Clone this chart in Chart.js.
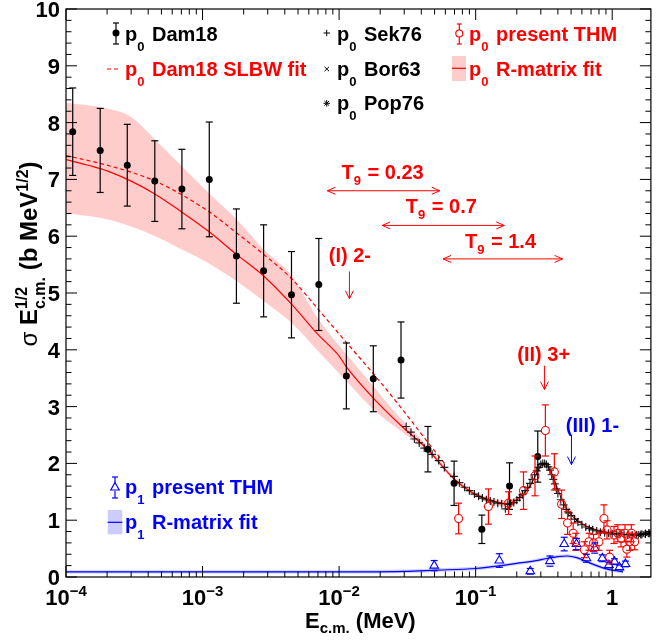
<!DOCTYPE html>
<html>
<head>
<meta charset="utf-8">
<script src="https://cdn.jsdelivr.net/npm/chart.js@4.4.1/dist/chart.umd.min.js"></script>
<style>
html, body { margin: 0; padding: 0; background: #fff; }
#c { display: block; }
</style>
</head>
<body>
<canvas id="c" width="657" height="642"></canvas>
<script>
// p0 Dam18 data points
const damE = [1.12e-4, 1.78e-4, 2.81e-4, 4.47e-4, 7.06e-4, 1.12e-3, 1.77e-3, 2.8e-3, 4.48e-3, 7.1e-3, 0.0113, 0.0178, 0.0284, 0.0447, 0.0695, 0.111, 0.177, 0.285];
const damY = [7.84, 7.51, 7.25, 6.97, 6.83, 7.00, 5.65, 5.39, 4.97, 5.15, 3.54, 3.49, 3.82, 2.25, 1.65, 0.84, 1.60, 2.12];
const damErr = [0.77, 0.74, 0.72, 0.71, 0.70, 1.01, 0.83, 0.81, 0.76, 0.81, 0.58, 0.58, 0.67, 0.40, 0.39, 0.25, 0.41, 0.45];

// p0 present THM
const thmE = [0.075, 0.124, 0.174, 0.224, 0.272, 0.324, 0.377, 0.426, 0.471, 0.518, 0.54, 0.625, 0.676, 0.73, 0.80, 0.87, 0.916, 0.957, 1.03, 1.10, 1.16, 1.24, 1.28, 1.34, 1.38, 1.46];
const thmY = [1.03, 1.24, 1.30, 1.52, 1.78, 2.58, 1.85, 1.28, 0.95, 0.77, 0.62, 0.48, 0.62, 0.60, 0.62, 1.03, 0.83, 0.35, 0.74, 0.77, 0.68, 0.77, 0.49, 0.62, 0.77, 0.62];
const thmErr = [0.27, 0.31, 0.20, 0.33, 0.35, 0.45, 0.32, 0.25, 0.20, 0.18, 0.15, 0.14, 0.15, 0.15, 0.15, 0.24, 0.16, 0.12, 0.15, 0.15, 0.15, 0.15, 0.14, 0.15, 0.15, 0.14];

// p1 present THM
const p1E = [0.0497, 0.149, 0.251, 0.35, 0.445, 0.547, 0.647, 0.745, 0.846, 0.946, 1.04, 1.13, 1.25];
const p1Y = [0.20, 0.29, 0.10, 0.28, 0.58, 0.58, 0.33, 0.51, 0.33, 0.21, 0.27, 0.17, 0.23];
const p1Err = [0.09, 0.12, 0.05, 0.09, 0.12, 0.10, 0.07, 0.09, 0.06, 0.05, 0.05, 0.04, 0.05];

// p0 Sek76, Bor63, Pop76
const sekE = [0.031, 0.0336, 0.0356, 0.0386, 0.042, 0.048, 0.0536, 0.059, 0.0695, 0.076, 0.083, 0.09, 0.098, 0.105, 0.112, 0.12, 0.128, 0.136, 0.145, 0.155, 0.165, 0.172, 0.18, 0.19, 0.2, 0.21, 0.22, 0.23, 0.24, 0.25, 0.26, 0.27, 0.28, 0.29, 0.30, 0.31, 0.32, 0.33, 0.34, 0.35, 0.36, 0.37, 0.38, 0.39, 0.40, 0.42, 0.44, 0.46, 0.48, 0.50, 0.53, 0.56, 0.60, 0.64, 0.68, 0.72, 0.77, 0.82, 0.88, 0.94, 1.0, 1.07, 1.14, 1.22, 1.30, 1.40, 1.50, 1.62, 1.75, 1.88];
const sekY = [2.65, 2.55, 2.43, 2.36, 2.27, 2.16, 2.05, 1.93, 1.77, 1.66, 1.58, 1.52, 1.46, 1.42, 1.39, 1.36, 1.34, 1.32, 1.30, 1.29, 1.20, 1.28, 1.29, 1.31, 1.35, 1.40, 1.45, 1.52, 1.58, 1.65, 1.72, 1.80, 1.87, 1.93, 1.98, 2.00, 2.00, 1.98, 1.94, 1.88, 1.80, 1.72, 1.64, 1.55, 1.47, 1.36, 1.27, 1.19, 1.13, 1.08, 1.02, 0.97, 0.92, 0.88, 0.85, 0.83, 0.81, 0.79, 0.78, 0.77, 0.76, 0.76, 0.75, 0.75, 0.74, 0.74, 0.74, 0.75, 0.76, 0.77];
const borE = [0.55, 0.7, 0.85, 1.0, 1.15];
const borY = [1.00, 0.86, 0.79, 0.77, 0.75];
const popE = [1.55, 1.65, 1.75, 1.85];
const popY = [0.74, 0.75, 0.76, 0.77];

// fits
const fitE = [1e-4, 1.5e-4, 2e-4, 3e-4, 4.5e-4, 7e-4, 1.1e-3, 1.77e-3, 2.8e-3, 4.5e-3, 7e-3, 0.01, 0.0113, 0.0178, 0.028, 0.0447, 0.07, 0.1, 0.13, 0.17, 0.2, 0.23, 0.25, 0.28, 0.30, 0.32, 0.34, 0.36, 0.38, 0.42, 0.47, 0.55, 0.7, 1.0, 1.5, 1.92];
const fitY = [7.35, 7.24, 7.15, 6.97, 6.74, 6.43, 6.09, 5.68, 5.30, 4.80, 4.27, 3.89, 3.70, 3.15, 2.68, 2.24, 1.72, 1.45, 1.35, 1.29, 1.36, 1.50, 1.60, 1.83, 1.96, 2.00, 1.94, 1.82, 1.68, 1.42, 1.18, 1.00, 0.86, 0.77, 0.74, 0.77];
const bandE = [1e-4, 2e-4, 3e-4, 4.5e-4, 7e-4, 1.1e-3, 1.77e-3, 2.8e-3, 4.5e-3, 7e-3, 0.0113, 0.0178, 0.028, 0.045, 0.07, 0.1, 0.17, 0.25, 0.32, 0.42, 0.7, 1.92];
const bandHi = [8.35, 8.25, 8.10, 7.70, 7.24, 6.77, 6.30, 5.77, 5.30, 4.55, 3.92, 3.36, 2.80, 2.29, 1.76, 1.49, 1.35, 1.64, 2.04, 1.45, 0.88, 0.79];
const bandLo = [6.41, 6.30, 6.17, 6.00, 5.77, 5.53, 5.21, 4.86, 4.47, 3.98, 3.45, 2.95, 2.58, 2.19, 1.68, 1.41, 1.23, 1.56, 1.96, 1.39, 0.84, 0.75];
const slbwE = [1e-4, 2e-4, 4.5e-4, 1.1e-3, 1.77e-3, 2.8e-3, 4.5e-3, 7.1e-3, 0.0113, 0.0178, 0.028, 0.045, 0.06];
const slbwY = [7.42, 7.25, 6.97, 6.44, 6.06, 5.68, 5.25, 4.70, 4.13, 3.58, 3.00, 2.36, 1.98];
const p1FitE = [1e-4, 1e-3, 0.01, 0.03, 0.05, 0.1, 0.143, 0.2, 0.25, 0.34, 0.4, 0.47, 0.55, 0.65, 0.75, 0.855, 0.95, 1.07, 1.2];
const p1FitY = [0.09, 0.09, 0.09, 0.10, 0.12, 0.15, 0.19, 0.24, 0.27, 0.33, 0.36, 0.37, 0.34, 0.27, 0.21, 0.16, 0.13, 0.11, 0.09];
const p1Band = 0.03;

const xMajor = [1e-4, 1e-3, 1e-2, 1e-1, 1];
const xExp = ['−4', '−3', '−2', '−1', null];

const RED = '#ff0000', BLUE = '#0000ff';
const FAM = '"Liberation Sans", Arial, Helvetica, sans-serif';
const pts = (xs, ys) => xs.map((v, i) => ({x: v, y: ys[i]}));

function fontOf(size, w) { return (w || 'bold') + ' ' + size + 'px ' + FAM; }
function partWidth(ctx, p, size) {
  const small = Math.round(size * 0.66);
  if (typeof p === 'string') { ctx.font = fontOf(size); return ctx.measureText(p).width; }
  if (p.t !== undefined) { ctx.font = fontOf(p.k ? small : size, p.w); return ctx.measureText(p.t).width + (p.gap || 0); }
  ctx.font = fontOf(small);
  return Math.max(ctx.measureText(p.sub).width, ctx.measureText(p.sup).width);
}
function rich(ctx, x, y, parts, size, color, align) {
  let w = 0;
  parts.forEach(p => { w += partWidth(ctx, p, size); });
  let cx = align === 'center' ? x - w / 2 : align === 'right' ? x - w : x;
  const small = Math.round(size * 0.66);
  ctx.fillStyle = color; ctx.textAlign = 'left'; ctx.textBaseline = 'alphabetic';
  parts.forEach(p => {
    const pw = partWidth(ctx, p, size);
    if (typeof p === 'string') { ctx.font = fontOf(size); ctx.fillText(p, cx, y); }
    else if (p.t !== undefined) {
      ctx.font = fontOf(p.k ? small : size, p.w);
      let dy = 0;
      if (p.k === 'sub') dy = p.dy !== undefined ? p.dy : size * 0.5;
      if (p.k === 'sup') dy = -(p.dy !== undefined ? p.dy : size * 0.42);
      ctx.fillText(p.t, cx, y + dy);
    } else {
      ctx.font = fontOf(small);
      ctx.fillText(p.sub, cx, y + size * 0.35);
      ctx.fillText(p.sup, cx, y - size * 0.42);
    }
    cx += pw;
  });
}
function line(ctx, x1, y1, x2, y2) { ctx.beginPath(); ctx.moveTo(x1, y1); ctx.lineTo(x2, y2); ctx.stroke(); }
function head(ctx, x, y, dx, dy, len, hw) {
  ctx.beginPath();
  ctx.moveTo(x - dx * len - dy * hw, y - dy * len + dx * hw);
  ctx.lineTo(x, y);
  ctx.lineTo(x - dx * len + dy * hw, y - dy * len - dx * hw);
  ctx.stroke();
}
function errBar(ctx, x, yc, yTop, yBot, gap, cap) {
  if (yTop < yc - gap) line(ctx, x, yTop, x, yc - gap);
  if (yBot > yc + gap) line(ctx, x, yc + gap, x, yBot);
  line(ctx, x - cap, yTop, x + cap, yTop);
  line(ctx, x - cap, yBot, x + cap, yBot);
}

const p0 = [{t: 'p'}, {t: '0', k: 'sub', gap: 2}];
const p1 = [{t: 'p'}, {t: '1', k: 'sub', gap: 2}];

const decor = {
  id: 'decor',
  afterDatasetsDraw(chart) {
    const {ctx, chartArea: a, scales: {x, y}} = chart;
    ctx.save();
    // error bars
    chart.data.datasets.forEach(ds => {
      if (!ds.errors) return;
      ctx.strokeStyle = ds.errColor; ctx.lineWidth = 1.2;
      ds.data.forEach((p, j) => {
        const px = x.getPixelForValue(p.x), py = y.getPixelForValue(p.y);
        errBar(ctx, px, py, y.getPixelForValue(p.y + ds.errors[j]), y.getPixelForValue(p.y - ds.errors[j]), ds.errGap, 3.5);
      });
    });

    // frame and ticks
    ctx.strokeStyle = '#000'; ctx.lineWidth = 1.2;
    ctx.strokeRect(a.left, a.top, a.right - a.left, a.bottom - a.top);
    ctx.lineWidth = 1;
    for (let n = -4; n <= 0; n++) {
      for (let m = 1; m <= 9; m++) {
        const v = m * Math.pow(10, n);
        if (v > x.max) break;
        const px = x.getPixelForValue(v);
        const len = m === 1 ? 11 : 5.5;
        line(ctx, px, a.bottom, px, a.bottom - len);
        line(ctx, px, a.top, px, a.top + len);
      }
    }
    for (let k = 0; k <= 50; k++) {
      const py = y.getPixelForValue(k * 0.2);
      const len = k % 5 === 0 ? 11 : 5.5;
      line(ctx, a.left, py, a.left + len, py);
      line(ctx, a.right, py, a.right - len, py);
    }

    // tick labels
    for (let v = 0; v <= 10; v++) rich(ctx, 60, y.getPixelForValue(v) + 8, [String(v)], 22, '#000', 'right');
    xMajor.forEach((v, i) => {
      const parts = xExp[i] ? ['10', {t: xExp[i], k: 'sup', dy: 9}] : ['1'];
      rich(ctx, x.getPixelForValue(v), 605, parts, 22, '#000', 'center');
    });

    // axis titles
    rich(ctx, 305, 628, ['E', {t: 'c.m.', k: 'sub', dy: 5}, ' (MeV)'], 22, '#000', 'left');
    ctx.save();
    ctx.translate(37, 254); ctx.rotate(-Math.PI / 2);
    rich(ctx, 0, 0, [{t: 'σ', w: 'normal'}, ' E', {sub: 'c.m.', sup: '1/2'}, ' (b MeV', {t: '1/2', k: 'sup', dy: 9}, ')'], 24, '#000', 'center');
    ctx.restore();

    // annotations (data coordinates)
    ctx.lineWidth = 1;
    const labels = [
      {e: 0.012, v: 5.54, parts: ['(I) 2-'], c: RED},
      {e: 0.0208, v: 7.0, parts: ['T', {t: '9', k: 'sub', dy: 6, gap: 1}, ' = 0.23'], c: RED},
      {e: 0.0561, v: 6.40, parts: ['T', {t: '9', k: 'sub', dy: 6, gap: 1}, ' = 0.7'], c: RED},
      {e: 0.152, v: 5.80, parts: ['T', {t: '9', k: 'sub', dy: 6, gap: 1}, ' = 1.4'], c: RED},
      {e: 0.315, v: 3.80, parts: ['(II) 3+'], c: RED},
      {e: 0.716, v: 2.56, parts: ['(III) 1-'], c: BLUE}
    ];
    labels.forEach(l => rich(ctx, x.getPixelForValue(l.e), y.getPixelForValue(l.v), l.parts, 20, l.c, 'center'));
    const ranges = [[0.0082, 0.0546, 6.80], [0.0207, 0.162, 6.19], [0.0577, 0.433, 5.60]];
    ctx.strokeStyle = RED;
    ranges.forEach(r => {
      const x1 = x.getPixelForValue(r[0]), x2 = x.getPixelForValue(r[1]), py = y.getPixelForValue(r[2]);
      line(ctx, x1, py, x2, py);
      head(ctx, x1, py, -1, 0, 8, 3.5);
      head(ctx, x2, py, 1, 0, 8, 3.5);
    });
    const downs = [[0.0119, 5.38, 4.90, RED], [0.319, 3.72, 3.30, RED], [0.503, 2.49, 1.98, BLUE]];
    downs.forEach(d => {
      const px = x.getPixelForValue(d[0]), y1 = y.getPixelForValue(d[1]), y2 = y.getPixelForValue(d[2]);
      ctx.strokeStyle = d[3];
      line(ctx, px, y1, px, y2);
      head(ctx, px, y2, 0, 1, 8, 4);
    });

    // legends (pixel layout)
    ctx.lineWidth = 1.2;
    ctx.strokeStyle = '#000'; ctx.fillStyle = '#000';
    errBar(ctx, 116, 33, 23, 44, 0, 3);
    ctx.beginPath(); ctx.arc(116, 33, 3.5, 0, Math.PI * 2); ctx.fill();
    rich(ctx, 125, 41, [...p0, ' Dam18'], 20, '#000', 'left');
    ctx.strokeStyle = RED; ctx.setLineDash([4, 3]);
    line(ctx, 107, 69, 119, 69); ctx.setLineDash([]);
    rich(ctx, 125, 76, [...p0, ' Dam18 SLBW fit'], 20, RED, 'left');

    ctx.strokeStyle = '#000'; ctx.lineWidth = 1;
    line(ctx, 323.5, 33, 330, 33); line(ctx, 326.7, 29.8, 326.7, 36.2);
    line(ctx, 324.5, 66.8, 329, 71.2); line(ctx, 324.5, 71.2, 329, 66.8);
    line(ctx, 323.5, 103.3, 330, 103.3); line(ctx, 326.7, 100, 326.7, 106.6);
    line(ctx, 324.4, 101, 329, 105.6); line(ctx, 324.4, 105.6, 329, 101);
    rich(ctx, 337, 41, [...p0, ' Sek76'], 20, '#000', 'left');
    rich(ctx, 337, 76, [...p0, ' Bor63'], 20, '#000', 'left');
    rich(ctx, 337, 110, [...p0, ' Pop76'], 20, '#000', 'left');

    ctx.strokeStyle = RED; ctx.lineWidth = 1.2;
    errBar(ctx, 459.3, 33.5, 24, 44, 3.5, 2.5);
    ctx.beginPath(); ctx.arc(459.3, 33.5, 3.5, 0, Math.PI * 2); ctx.stroke();
    rich(ctx, 469, 41, [...p0, ' present THM'], 20, RED, 'left');
    ctx.fillStyle = 'rgba(255,0,0,0.2)'; ctx.fillRect(452, 56, 14, 25);
    line(ctx, 452, 68.3, 466, 68.3);
    rich(ctx, 469, 76, [...p0, ' R-matrix fit'], 20, RED, 'left');

    ctx.strokeStyle = BLUE;
    errBar(ctx, 115, 487, 477, 498, 4, 3);
    ctx.beginPath(); ctx.moveTo(115, 482.5); ctx.lineTo(119.2, 490); ctx.lineTo(110.8, 490); ctx.closePath(); ctx.stroke();
    rich(ctx, 125, 494, [...p1, ' present THM'], 20, BLUE, 'left');
    ctx.fillStyle = 'rgba(0,0,255,0.2)'; ctx.fillRect(107.7, 510, 14.6, 24.3);
    line(ctx, 107.7, 522.3, 122.3, 522.3);
    rich(ctx, 125, 529, [...p1, ' R-matrix fit'], 20, BLUE, 'left');
    ctx.restore();
  }
};

const lineDs = (data, color, extra) => Object.assign({
  data, showLine: true, pointRadius: 0, borderColor: color, borderWidth: 1.2,
  cubicInterpolationMode: 'monotone', fill: false
}, extra || {});

new Chart(document.getElementById('c').getContext('2d'), {
  type: 'scatter',
  data: {
    datasets: [
      {data: pts(damE, damY), pointStyle: 'circle', pointRadius: 3.5, backgroundColor: '#000', borderColor: '#000', borderWidth: 0,
       errors: damErr, errColor: '#000', errGap: 0},
      {data: pts(thmE, thmY), pointStyle: 'circle', pointRadius: 4, backgroundColor: 'rgba(0,0,0,0)', borderColor: RED, borderWidth: 1.1,
       errors: thmErr, errColor: RED, errGap: 4},
      {data: pts(p1E, p1Y), pointStyle: 'triangle', pointRadius: 5, backgroundColor: 'rgba(0,0,0,0)', borderColor: BLUE, borderWidth: 1.1,
       errors: p1Err, errColor: BLUE, errGap: 5},
      {data: pts(sekE, sekY), pointStyle: 'cross', pointRadius: 4, borderColor: 'rgba(0,0,0,0.85)', borderWidth: 1.2},
      {data: pts(borE, borY), pointStyle: 'crossRot', pointRadius: 3, borderColor: '#000', borderWidth: 1},
      {data: pts(popE, popY), pointStyle: 'star', pointRadius: 4, borderColor: '#000', borderWidth: 1},
      lineDs(pts(slbwE, slbwY), RED, {borderDash: [4, 3]}),
      lineDs(pts(fitE, fitY), RED),
      lineDs(pts(p1FitE, p1FitY), BLUE),
      lineDs(pts(bandE, bandHi), 'rgba(0,0,0,0)', {borderWidth: 0}),
      lineDs(pts(bandE, bandLo), 'rgba(0,0,0,0)', {borderWidth: 0, fill: '-1', backgroundColor: 'rgba(255,0,0,0.2)'}),
      lineDs(pts(p1FitE, p1FitY.map(v => v + p1Band)), 'rgba(0,0,0,0)', {borderWidth: 0}),
      lineDs(pts(p1FitE, p1FitY.map(v => v - p1Band)), 'rgba(0,0,0,0)', {borderWidth: 0, fill: '-1', backgroundColor: 'rgba(0,0,255,0.2)'})
    ]
  },
  options: {
    responsive: false,
    animation: false,
    devicePixelRatio: 1,
    layout: {padding: {left: 66, right: 2, top: 9, bottom: 65}},
    plugins: {legend: {display: false}, tooltip: {enabled: false}},
    scales: {
      x: {type: 'logarithmic', min: 1e-4, max: 1.92, display: false},
      y: {type: 'linear', min: 0, max: 10, display: false}
    }
  },
  plugins: [decor]
});
</script>
</body>
</html>
